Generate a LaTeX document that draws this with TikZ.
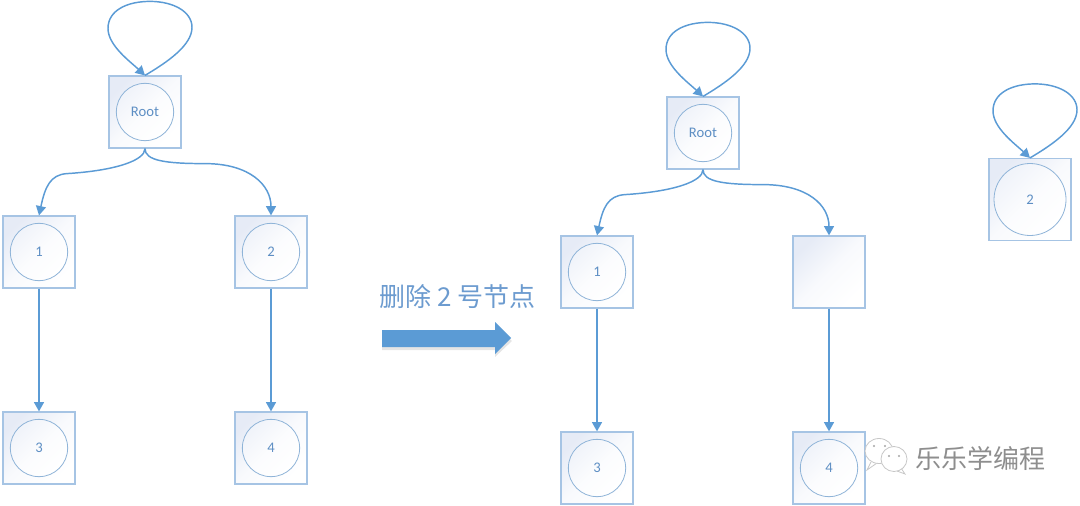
\documentclass[tikz,border=0pt]{standalone}
\usepackage{fontspec}
\setmainfont{Carlito}
\newfontfamily\cjk{Noto Sans CJK SC}
\usetikzlibrary{arrows.meta,calc}
\definecolor{edgeblue}{HTML}{5B9BD5}
\definecolor{boxline}{HTML}{A6C4E4}
\definecolor{ringline}{HTML}{8FB4D8}
\definecolor{labelblue}{HTML}{5E8FC4}
\definecolor{shadeblue}{HTML}{E6EBF6}
\definecolor{headingblue}{HTML}{6C9BCF}
\definecolor{markgray}{HTML}{8E8E8E}
\tikzset{
  boxnode/.style={draw=boxline,line width=0.9pt,rectangle,minimum size=54pt,inner sep=0pt,
    top color=shadeblue,bottom color=white,middle color=shadeblue!25!white,shading angle=45},
  ringnode/.style={draw=ringline,line width=0.6pt,circle,minimum size=43pt,inner sep=0pt,
    top color=shadeblue!60!white,bottom color=white,middle color=shadeblue!15!white,shading angle=45,
    text=labelblue,font=\fontsize{11}{13}\selectfont},
  conn/.style={draw=edgeblue,line width=1.1pt,-{Triangle[length=7pt,width=7.5pt]}},
  bubble/.style={draw=black!22,line width=0.6pt,fill=white},
  eye/.style={fill=black!35,circle,inner sep=0pt,minimum size=1.6pt}
}
\newcommand{\selfloop}[1]{%
  \draw[conn] (#1.north)
    .. controls ($(#1.north)+(22,-13)$) and ($(#1.north)+(47,-30)$) .. ($(#1.north)+(47,-48)$)
    .. controls ($(#1.north)+(47,-64)$) and ($(#1.north)+(28,-74)$) .. ($(#1.north)+(5,-74)$)
    .. controls ($(#1.north)+(-18,-74)$) and ($(#1.north)+(-37,-65)$) .. ($(#1.north)+(-37,-47)$)
    .. controls ($(#1.north)+(-37,-30)$) and ($(#1.north)+(-15,-14)$) .. (#1.north);}
\newcommand{\twigleft}[2]{%
  \draw[conn] (#1.south)
    .. controls ($(#1.south)+(0,12)$) and ($(#1.south)+(-30,22)$) .. ($(#1.south)+(-78,25)$)
    .. controls ($(#1.south)+(-95,26)$) and ($(#2.north)+(6,-28)$) .. (#2.north);}
\newcommand{\twigright}[2]{%
  \draw[conn] (#1.south)
    .. controls ($(#1.south)+(0,12)$) and ($(#1.south)+(20,15)$) .. ($(#1.south)+(60,15)$)
    .. controls ($(#1.south)+(105,15)$) and ($(#2.north)+(0,-30)$) .. (#2.north);}
\begin{document}
\begin{tikzpicture}[x=0.75pt,y=-0.75pt]
\useasboundingbox (0,0) rectangle (1080,506);
% left tree
\node[boxnode] (lroot) at (145,112) {};
\node[boxnode] (lone) at (39,252) {};
\node[boxnode] (ltwo) at (271,252) {};
\node[boxnode] (lthree) at (39,448) {};
\node[boxnode] (lfour) at (271,448) {};
\node[ringnode] (lrootc) at (lroot) {Root};
\node[ringnode] (lonec) at (lone) {1};
\node[ringnode] (ltwoc) at (ltwo) {2};
\node[ringnode] (lthreec) at (lthree) {3};
\node[ringnode] (lfourc) at (lfour) {4};
\selfloop{lroot}
\twigleft{lroot}{lone}
\twigright{lroot}{ltwo}
\draw[conn] (lone) -- (lthree);
\draw[conn] (ltwo) -- (lfour);
% right tree
\node[boxnode] (rroot) at (703,133) {};
\node[boxnode] (rone) at (597,272) {};
\node[boxnode] (rtwo) at (829,272) {};
\node[boxnode] (rthree) at (597,468) {};
\node[boxnode] (rfour) at (829,468) {};
\node[ringnode] (rrootc) at (rroot) {Root};
\node[ringnode] (ronec) at (rone) {1};
\node[ringnode] (rthreec) at (rthree) {3};
\node[ringnode] (rfourc) at (rfour) {4};
\selfloop{rroot}
\twigleft{rroot}{rone}
\twigright{rroot}{rtwo}
\draw[conn] (rone) -- (rthree);
\draw[conn] (rtwo) -- (rfour);
% detached node
\node[boxnode,minimum size=61.5pt] (dtwo) at (1030,199.5) {};
\node[ringnode,minimum size=54pt] (dtwoc) at (dtwo) {2};
\selfloop{dtwo}
% heading and big arrow
\node[text=headingblue,font=\cjk\fontsize{19.5}{22}\selectfont,inner sep=0pt] (heading) at (457.5,297) {删除 2 号节点};
\fill[black!10] (382,333) -- (495,333) -- (495,325) -- (512,341) -- (495,357) -- (495,350) -- (382,350) -- cycle;
\fill[edgeblue] (382,330) -- (495,330) -- (495,322) -- (511,338) -- (495,354) -- (495,347) -- (382,347) -- cycle;
% watermark
\draw[bubble] (871,462) -- (867,470) -- (877,463);
\draw[bubble] (879,451) ellipse (14 and 12.5);
\draw[bubble] (901,468) -- (905,474) -- (897,471);
\draw[bubble] (894,459) ellipse (13 and 12.5);
\node[eye] (eyea) at (874,446) {};
\node[eye] (eyeb) at (885,446) {};
\node[eye] (eyec) at (889,456) {};
\node[eye] (eyed) at (899,456) {};
\node[text=markgray,font=\cjk\fontsize{19.5}{22}\selectfont,inner sep=0pt] (mark) at (980,458.5) {乐乐学编程};
\end{tikzpicture}
\end{document}
